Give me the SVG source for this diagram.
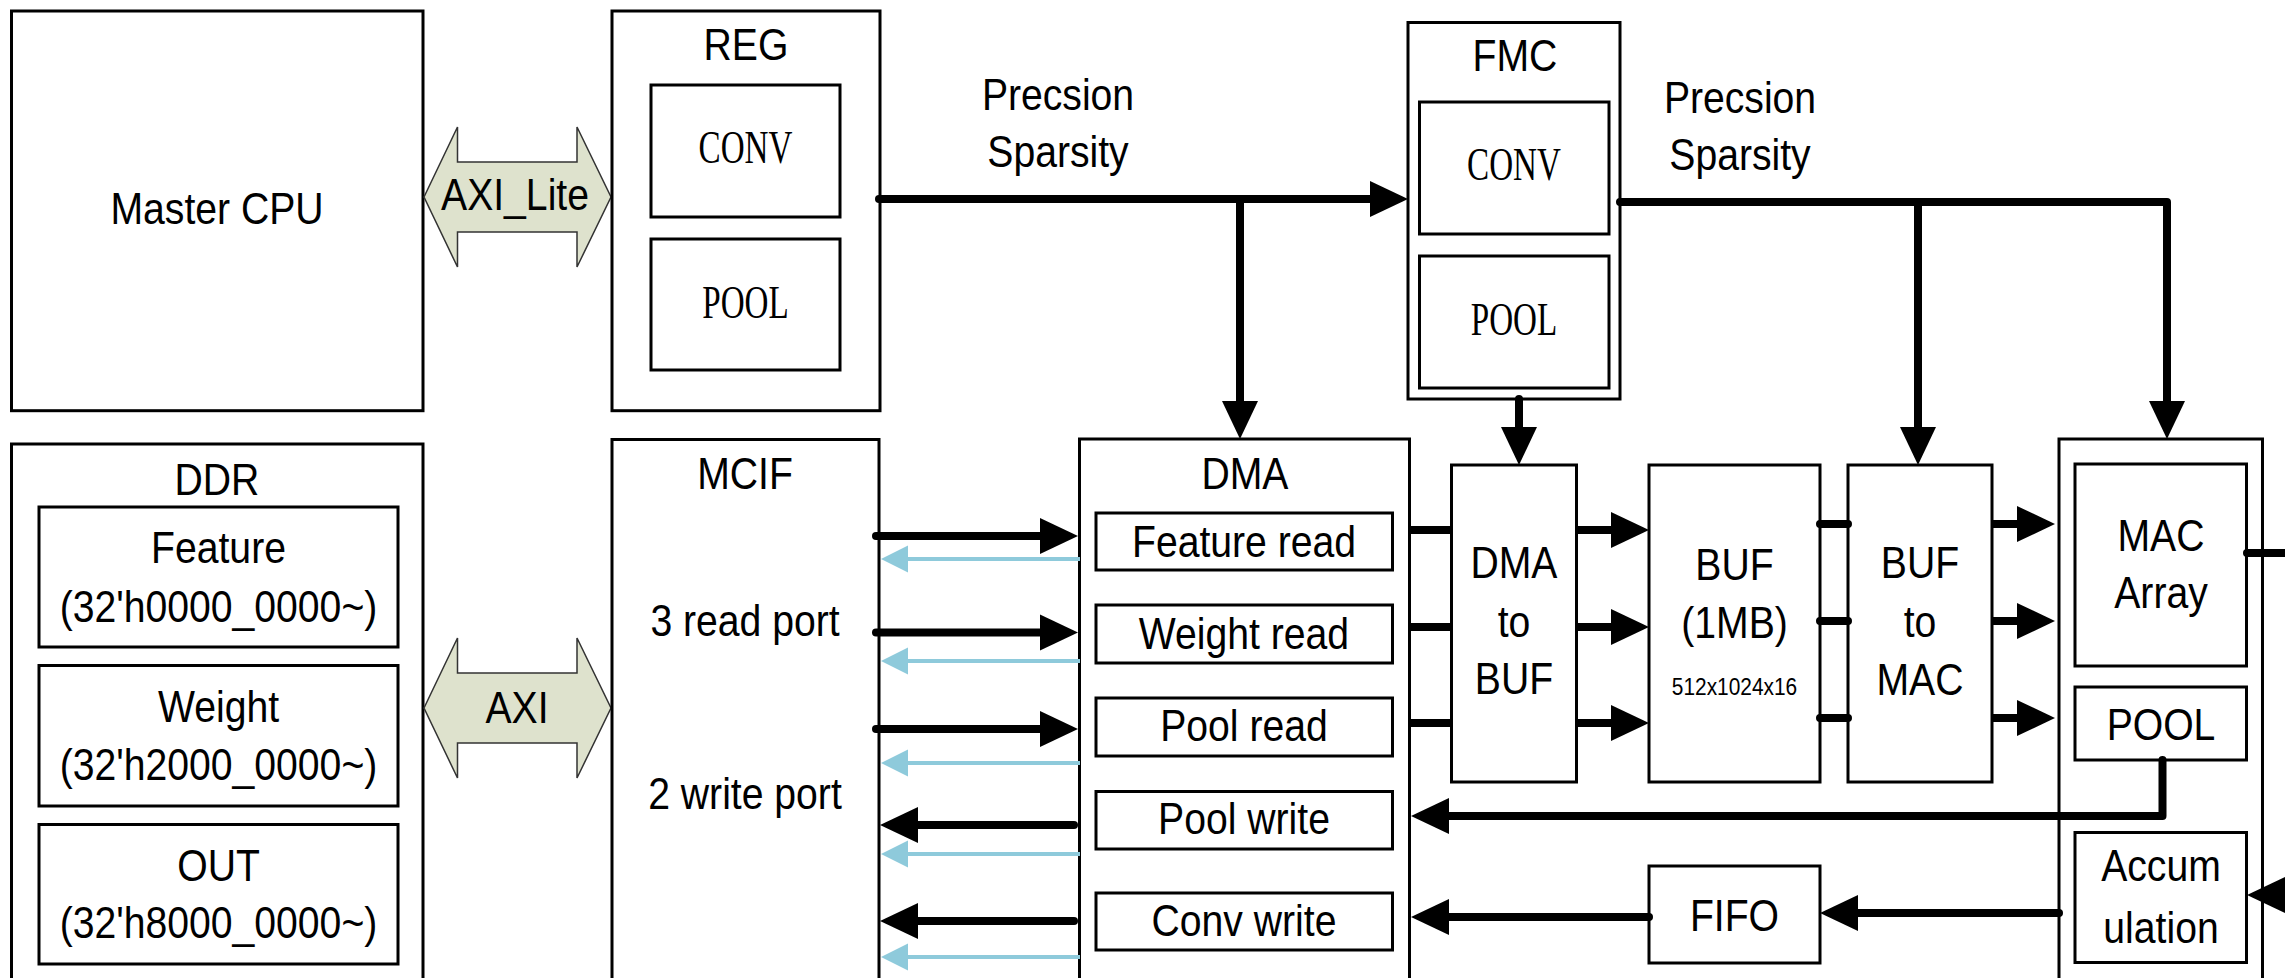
<svg xmlns="http://www.w3.org/2000/svg" xmlns:xlink="http://www.w3.org/1999/xlink" width="2285" height="978" viewBox="0 0 2285 978">
<style>
.box{fill:#fff;stroke:#000;stroke-width:3}
.t{font-family:"Liberation Sans",Arial,sans-serif;font-size:45px;text-anchor:middle;fill:#000}
.sm{font-family:"Liberation Sans",Arial,sans-serif;font-size:24px;text-anchor:middle;fill:#000}
.s{font-family:"Liberation Serif","Times New Roman",serif;font-size:46px;text-anchor:middle;fill:#000}
.ln{stroke:#000;stroke-width:8;fill:none;stroke-linecap:round;stroke-linejoin:round}
.lb{stroke:#000;stroke-width:8;fill:none}
.bl{stroke:#8ECADB;stroke-width:4;fill:none}
.bus{fill:#DEE2CD;stroke:#333;stroke-width:1.5}
</style>
<defs>
<path id="ah" d="M0,0 L-38,-18 L-38,18 Z" fill="#000"/>
<path id="ahb" d="M0,0 L-27,-13.5 L-27,13.5 Z" fill="#8ECADB"/>
</defs>
<rect width="2285" height="978" fill="#fff"/>

<g id="master_cpu">
<rect class="box" x="11.5" y="11" width="411.5" height="399.7"/>
<text class="t" transform="translate(217 224) scale(.87 1)">Master CPU</text>
</g>

<g id="axi_lite">
<polygon class="bus" points="424,197 457.5,127 457.5,162 577,162 577,127 611,197 577,267 577,232 457.5,232 457.5,267"/>
<text class="t" transform="translate(515 210) scale(.87 1)">AXI_Lite</text>
</g>

<g id="reg">
<rect class="box" x="612" y="11" width="268" height="399.7"/>
<text class="t" transform="translate(746 60) scale(.87 1)">REG</text>
<rect class="box" x="651" y="85" width="189" height="132"/>
<text class="s" transform="translate(745.5 163) scale(.72 1)">CONV</text>
<rect class="box" x="651" y="239" width="189" height="131"/>
<text class="s" transform="translate(745.5 318) scale(.72 1)">POOL</text>
</g>

<g id="fmc">
<rect class="box" x="1408" y="22.5" width="212" height="376.5"/>
<text class="t" transform="translate(1515 71) scale(.87 1)">FMC</text>
<rect class="box" x="1419.5" y="102" width="189.5" height="132"/>
<text class="s" transform="translate(1514 180) scale(.72 1)">CONV</text>
<rect class="box" x="1419.5" y="256" width="189.5" height="132"/>
<text class="s" transform="translate(1514 335) scale(.72 1)">POOL</text>
</g>

<g id="labels">
<text class="t" transform="translate(1058 110) scale(.87 1)">Precsion</text>
<text class="t" transform="translate(1058 167) scale(.87 1)">Sparsity</text>
<text class="t" transform="translate(1740 113) scale(.87 1)">Precsion</text>
<text class="t" transform="translate(1740 170) scale(.87 1)">Sparsity</text>
</g>

<g id="ddr">
<rect class="box" x="11.5" y="444" width="411.5" height="560"/>
<text class="t" transform="translate(217 495) scale(.87 1)">DDR</text>
<rect class="box" x="39" y="507" width="359" height="140"/>
<text class="t" transform="translate(218.5 563) scale(.87 1)">Feature</text>
<text class="t" transform="translate(218.5 622) scale(.87 1)">(32'h0000_0000~)</text>
<rect class="box" x="39" y="665.5" width="359" height="140.5"/>
<text class="t" transform="translate(218.5 722) scale(.87 1)">Weight</text>
<text class="t" transform="translate(218.5 780) scale(.87 1)">(32'h2000_0000~)</text>
<rect class="box" x="39" y="824.5" width="359" height="139.5"/>
<text class="t" transform="translate(218.5 881) scale(.87 1)">OUT</text>
<text class="t" transform="translate(218.5 938) scale(.87 1)">(32'h8000_0000~)</text>
</g>

<g id="axi">
<polygon class="bus" points="424,708 457.5,638 457.5,673 577,673 577,638 611,708 577,778 577,743 457.5,743 457.5,778"/>
<text class="t" transform="translate(517 723) scale(.87 1)">AXI</text>
</g>

<g id="mcif">
<rect class="box" x="612" y="439.5" width="267" height="560"/>
<text class="t" transform="translate(745 489) scale(.87 1)">MCIF</text>
<text class="t" transform="translate(745 635.5) scale(.87 1)">3 read port</text>
<text class="t" transform="translate(745 808.5) scale(.87 1)">2 write port</text>
</g>

<g id="dma">
<rect class="box" x="1079.5" y="439" width="330" height="560"/>
<text class="t" transform="translate(1245 489) scale(.87 1)">DMA</text>
<rect class="box" x="1096" y="513" width="296.5" height="57"/>
<text class="t" transform="translate(1244 556.5) scale(.87 1)">Feature read</text>
<rect class="box" x="1096" y="605" width="296.5" height="58"/>
<text class="t" transform="translate(1244 649) scale(.87 1)">Weight read</text>
<rect class="box" x="1096" y="698" width="296.5" height="58"/>
<text class="t" transform="translate(1244 741) scale(.87 1)">Pool read</text>
<rect class="box" x="1096" y="791.5" width="296.5" height="57.5"/>
<text class="t" transform="translate(1244 834) scale(.87 1)">Pool write</text>
<rect class="box" x="1096" y="893" width="296.5" height="57"/>
<text class="t" transform="translate(1244 936) scale(.87 1)">Conv write</text>
</g>

<g id="dma_to_buf">
<rect class="box" x="1451.5" y="465" width="125" height="317"/>
<text class="t" transform="translate(1514 578) scale(.87 1)">DMA</text>
<text class="t" transform="translate(1514 637) scale(.87 1)">to</text>
<text class="t" transform="translate(1514 694) scale(.87 1)">BUF</text>
</g>

<g id="buf">
<rect class="box" x="1649" y="465" width="171" height="317"/>
<text class="t" transform="translate(1734.5 580) scale(.87 1)">BUF</text>
<text class="t" transform="translate(1734.5 638) scale(.87 1)">(1MB)</text>
<text class="sm" transform="translate(1734.5 695) scale(.87 1)">512x1024x16</text>
</g>

<g id="buf_to_mac">
<rect class="box" x="1848" y="465" width="144" height="317"/>
<text class="t" transform="translate(1920 578) scale(.87 1)">BUF</text>
<text class="t" transform="translate(1920 637) scale(.87 1)">to</text>
<text class="t" transform="translate(1920 695) scale(.87 1)">MAC</text>
</g>

<g id="mac_unit">
<rect class="box" x="2059" y="439" width="203.5" height="560"/>
<rect class="box" x="2075" y="464" width="171.5" height="202"/>
<text class="t" transform="translate(2161 551) scale(.87 1)">MAC</text>
<text class="t" transform="translate(2161 608) scale(.87 1)">Array</text>
<rect class="box" x="2075" y="687" width="171.5" height="73"/>
<text class="t" transform="translate(2161 740) scale(.87 1)">POOL</text>
<rect class="box" x="2075" y="832.5" width="171.5" height="130"/>
<text class="t" transform="translate(2161 881) scale(.87 1)">Accum</text>
<text class="t" transform="translate(2161 943) scale(.87 1)">ulation</text>
</g>

<g id="fifo">
<rect class="box" x="1649" y="866" width="171" height="97"/>
<text class="t" transform="translate(1734.5 931) scale(.87 1)">FIFO</text>
</g>

<g id="connectors">
<!-- control buses -->
<path class="ln" d="M879,199 H1375"/>
<use xlink:href="#ah" transform="translate(1408 199)"/>
<path class="ln" d="M1240,199 V405"/>
<use xlink:href="#ah" transform="translate(1240 439) rotate(90)"/>
<path class="ln" d="M1620,202 H2167 V405"/>
<use xlink:href="#ah" transform="translate(2167 439) rotate(90)"/>
<path class="ln" d="M1918,202 V430"/>
<use xlink:href="#ah" transform="translate(1918 465) rotate(90)"/>
<path class="ln" d="M1519,399 V430"/>
<use xlink:href="#ah" transform="translate(1519 465) rotate(90)"/>

<!-- MCIF <-> DMA -->
<path class="ln" d="M876,536 H1045"/>
<use xlink:href="#ah" transform="translate(1078 536)"/>
<path class="ln" d="M876,632.5 H1045"/>
<use xlink:href="#ah" transform="translate(1078 632.5)"/>
<path class="ln" d="M876,729 H1045"/>
<use xlink:href="#ah" transform="translate(1078 729)"/>
<path class="ln" d="M1074,825 H912"/>
<use xlink:href="#ah" transform="translate(880 825) rotate(180)"/>
<path class="ln" d="M1074,921 H912"/>
<use xlink:href="#ah" transform="translate(880 921) rotate(180)"/>

<path class="bl" d="M1080,559 H900"/>
<use xlink:href="#ahb" transform="translate(881 559) rotate(180)"/>
<path class="bl" d="M1080,661 H900"/>
<use xlink:href="#ahb" transform="translate(881 661) rotate(180)"/>
<path class="bl" d="M1080,763 H900"/>
<use xlink:href="#ahb" transform="translate(881 763) rotate(180)"/>
<path class="bl" d="M1080,854 H900"/>
<use xlink:href="#ahb" transform="translate(881 854) rotate(180)"/>
<path class="bl" d="M1080,957 H900"/>
<use xlink:href="#ahb" transform="translate(881 957) rotate(180)"/>

<!-- DMA -> DMA to BUF -> BUF -->
<path class="lb" d="M1410,530 H1452 M1410,627 H1452 M1410,723 H1452"/>
<path class="lb" d="M1577,530 H1615 M1577,627 H1615 M1577,723 H1615"/>
<use xlink:href="#ah" transform="translate(1649 530)"/>
<use xlink:href="#ah" transform="translate(1649 627)"/>
<use xlink:href="#ah" transform="translate(1649 723)"/>

<!-- BUF -> BUF to MAC -> MAC -->
<path class="ln" d="M1820,524 H1848 M1820,621 H1848 M1820,718 H1848"/>
<path class="lb" d="M1992,524 H2022 M1992,621 H2022 M1992,718 H2022"/>
<use xlink:href="#ah" transform="translate(2055 524)"/>
<use xlink:href="#ah" transform="translate(2055 621)"/>
<use xlink:href="#ah" transform="translate(2055 718)"/>

<!-- outputs -->
<path class="ln" d="M2162.5,760 V816 H1445"/>
<use xlink:href="#ah" transform="translate(1411 816) rotate(180)"/>
<path class="ln" d="M2059,913 H1855"/>
<use xlink:href="#ah" transform="translate(1820 913) rotate(180)"/>
<path class="ln" d="M1649,917 H1445"/>
<use xlink:href="#ah" transform="translate(1411 917) rotate(180)"/>
<path class="ln" d="M2247,553 H2295"/>
<path class="lb" d="M2295,895 H2270"/>
<use xlink:href="#ah" transform="translate(2247 895) rotate(180)"/>
</g>
</svg>
